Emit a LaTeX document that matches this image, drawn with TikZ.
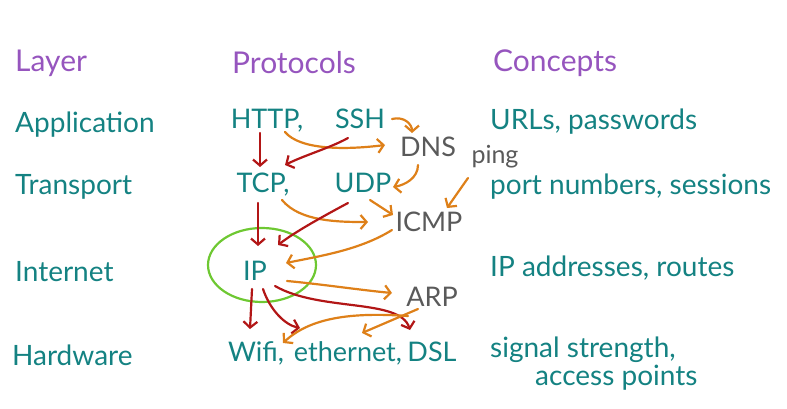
\documentclass[tikz,border=0pt]{standalone}
\usepackage{fontspec}
\setmainfont{Lato}
\usetikzlibrary{arrows.meta}

\definecolor{headpurple}{RGB}{150,85,190}
\definecolor{layerteal}{RGB}{20,130,130}
\definecolor{protogray}{RGB}{90,90,90}
\definecolor{arrorange}{RGB}{222,128,25}
\definecolor{arrred}{RGB}{178,22,22}
\definecolor{ipgreen}{RGB}{110,200,50}

\begin{document}
\begin{tikzpicture}[x=1pt, y=-1pt,
		head/.style={anchor=west, inner sep=0pt, text=headpurple, font=\fontsize{30}{32}\selectfont},
		layer/.style={anchor=west, inner sep=0pt, text=layerteal, font=\fontsize{28}{30}\selectfont},
		proto/.style={inner sep=0pt, text height=18pt, text depth=0pt, text=layerteal, font=\fontsize{27}{29}\selectfont},
		helper/.style={proto, text=protogray},
		pinglabel/.style={anchor=base, inner sep=0pt, text=protogray, font=\fontsize{25}{27}\selectfont},
		concept/.style={layer},
		redarr/.style={draw=arrred, line width=2.2pt, line cap=round, -{Straight Barb[length=6pt,width=14pt]}},
		orarr/.style={draw=arrorange, line width=2.2pt, line cap=round, -{Straight Barb[length=6pt,width=14pt]}}]
		\useasboundingbox (0,0) rectangle (787,409);

		% Column headings
		\node[head] (layerhd) at (15,63) {Layer};
		\node[head] (protohd) at (232,63) {Protocols};
		\node[head] (concepthd) at (493,63) {Concepts};

		% Layers
		\node[layer] (app) at (15,125) {Application};
		\node[layer] (trans) at (15,187) {Transport};
		\node[layer] (inet) at (15,272) {Internet};
		\node[layer] (hard) at (12,355) {Hardware};

		% Protocols
		\node[proto] (http) at (267,120) {HTTP,};
		\node[proto] (ssh) at (360,120) {SSH};
		\node[helper] (dns) at (428,148) {DNS};
		\node[proto] (tcp) at (263,183) {TCP,};
		\node[proto] (udp) at (363,183) {UDP};
		\node[pinglabel] (ping) at (495,164) {ping};
		\node[helper] (icmp) at (429,222) {ICMP};
		\node[proto] (ip) at (255,271) {IP};
		\node[helper] (arp) at (432,297) {ARP};
		\node[proto] (wifi) at (256,352) {Wifi,};
		\node[proto] (eth) at (348,352) {ethernet,};
		\node[proto] (dsl) at (432,352) {DSL};

		% Concepts
		\node[concept] (urls) at (490,122) {URLs, passwords};
		\node[concept] (ports) at (490,187) {port numbers, sessions};
		\node[concept] (addr) at (490,268) {IP addresses, routes};
		\node[concept] (signal) at (490,350) {signal strength,};
		\node[concept] (access) at (535,378) {access points};

		% Circle round IP
		\draw[ipgreen, line width=2.2pt] ([shift={(7,-6)}]ip.center) ellipse [x radius=54pt, y radius=37pt];

		% Application to transport
		\draw[redarr] ([shift={(-7,13)}]http.center) -- ([shift={(-3,-16)}]tcp.center);
		\draw[orarr] ([shift={(18,12)}]http.center) .. controls (300,150) and (345,150) .. ([shift={(-43,-3)}]dns.center);
		\draw[redarr] ([shift={(-12,18)}]ssh.center) .. controls (330,148) and (305,155) .. ([shift={(22,-18)}]tcp.center);
		\draw[orarr] ([shift={(32,-1)}]ssh.center) .. controls (404,116) and (412,124) .. ([shift={(-16,-15)}]dns.center);
		\draw[orarr] ([shift={(-10,17)}]dns.center) .. controls (418,178) and (405,185) .. ([shift={(30,4)}]udp.center);

		% Transport to internet
		\draw[orarr] ([shift={(-27,14)}]ping.base) -- ([shift={(18,-14)}]icmp.center);
		\draw[orarr] ([shift={(7,17)}]udp.center) -- ([shift={(-36,-7)}]icmp.center);
		\draw[orarr] ([shift={(19,17)}]tcp.center) .. controls (300,222) and (340,222) .. ([shift={(-61,0)}]icmp.center);
		\draw[redarr] ([shift={(-15,20)}]udp.center) .. controls (320,218) and (295,232) .. ([shift={(23,-26)}]ip.center);
		\draw[redarr] ([shift={(-5,20)}]tcp.center) -- ([shift={(3,-25)}]ip.center);
		\draw[orarr] ([shift={(-37,8)}]icmp.center) .. controls (360,250) and (320,256) .. ([shift={(31,-8)}]ip.center);

		% Internet to hardware
		\draw[orarr] ([shift={(32,10)}]ip.center) .. controls (320,284) and (360,290) .. ([shift={(-40,-4)}]arp.center);
		\draw[redarr] ([shift={(20,15)}]ip.center) .. controls (320,312) and (400,298) .. ([shift={(-22,-22)}]dsl.center);
		\draw[redarr] ([shift={(-3,18)}]ip.center) -- ([shift={(-6,-23)}]wifi.center);
		\draw[redarr] ([shift={(8,18)}]ip.center) .. controls (270,310) and (285,325) .. ([shift={(-48,-24)}]eth.center);
		\draw[orarr] ([shift={(-24,19)}]arp.center) .. controls (350,312) and (310,318) .. ([shift={(27,-9)}]wifi.center);
		\draw[orarr] ([shift={(-14,12)}]arp.center) -- ([shift={(14,-19)}]eth.center);
	\end{tikzpicture}
\end{document}
